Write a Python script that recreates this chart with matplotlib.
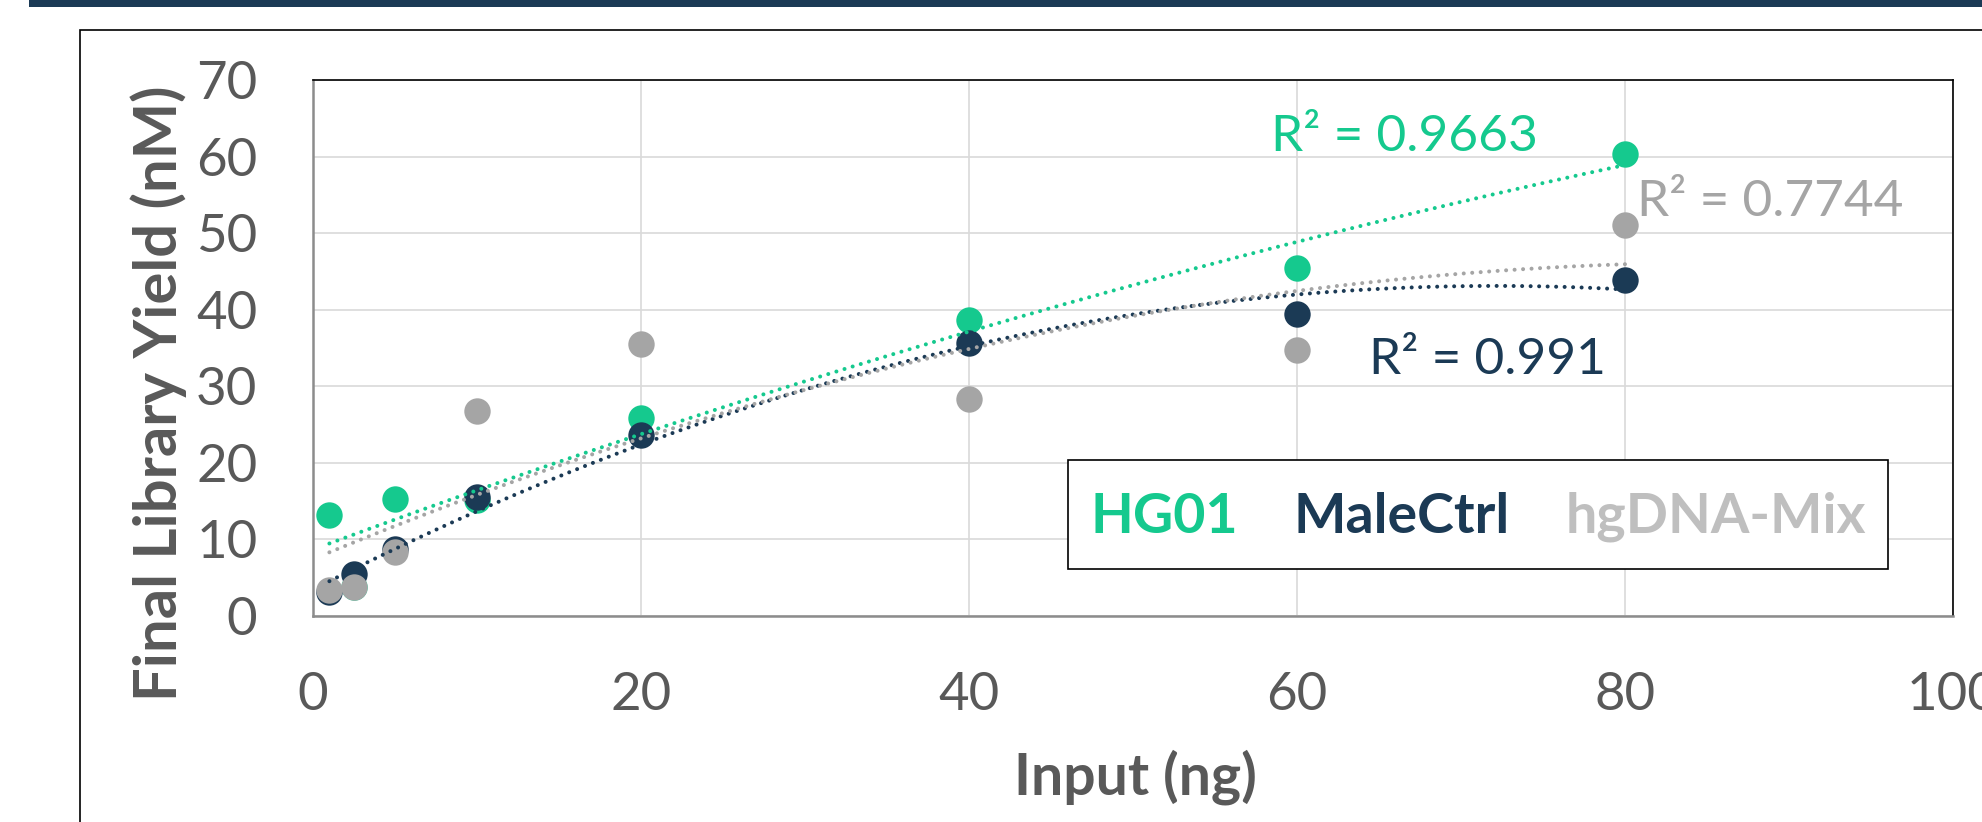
import numpy as np
import matplotlib
matplotlib.use("Agg")
import matplotlib.pyplot as plt
from matplotlib.lines import Line2D
from matplotlib.patches import Rectangle

plt.rcParams['font.family'] = ['Lato', 'DejaVu Sans']

# data (HG01 at 2.5 ng sits under the grey marker)
hg01_x = [1, 2.5, 5, 10, 20, 40, 60, 80]
hg01_y = [13.2, 3.8, 15.3, 15.2, 25.9, 38.6, 45.5, 60.3]

male_x = [1, 2.5, 5, 10, 20, 40, 60, 80]
male_y = [3.1, 5.5, 8.7, 15.6, 23.6, 35.6, 39.4, 43.9]

mix_x = [1, 2.5, 5, 10, 20, 40, 60, 80]
mix_y = [3.4, 3.8, 8.4, 26.8, 35.5, 28.4, 34.7, 51.0]

series_names = ['HG01', 'MaleCtrl', 'hgDNA-Mix']
r2_labels = ['R² = 0.9663', 'R² = 0.991', 'R² = 0.7744']

green = '#15C98E'
navy = '#1B3A55'
grey = '#A5A5A5'
grey_light = '#BFBFBF'
txt = '#595959'

W, H = 1982, 822
fig = plt.figure(figsize=(W / 100, H / 100), dpi=100)

# dark bar on top and the outer chart frame
fig.patches.append(Rectangle((29 / W, 1 - 7 / H), 1, 0.1, transform=fig.transFigure,
                             facecolor=navy, edgecolor='none'))
fig.patches.append(Rectangle((80 / W, -0.2), 1, 1.2 - 30 / H, transform=fig.transFigure,
                             facecolor='none', edgecolor='black', linewidth=1.2))

ax = fig.add_axes([313 / W, 1 - 616 / H, 1640 / W, 536 / H])
ax.set_xlim(0, 100)
ax.set_ylim(0, 70)
ax.set_xticks(np.arange(0, 101, 20))
ax.set_yticks(np.arange(0, 71, 10))
ax.grid(True, color='#D9D9D9', linewidth=1.2, zorder=0)
ax.set_axisbelow(True)
ax.tick_params(length=0, pad=40, labelsize=38, colors=txt)

for s in ['top', 'right']:
    ax.spines[s].set_color('black')
    ax.spines[s].set_linewidth(1.2)
for s in ['left', 'bottom']:
    ax.spines[s].set_color('#8C8C8C')
    ax.spines[s].set_linewidth(1.8)

groups = [(hg01_x, hg01_y, green), (male_x, male_y, navy), (mix_x, mix_y, grey)]
for i, (x, y, c) in enumerate(groups):
    ax.plot(x, y, 'o', ms=19, mew=0, color=c, zorder=3 + i)

# 2nd order polynomial trendlines
for x, y, c in groups:
    coef = np.polyfit(x, y, 2)
    xs = np.linspace(min(x), max(x), 300)
    ax.plot(xs, np.polyval(coef, xs), color=c, lw=2.9, linestyle=(0, (0.01, 2.1)),
            dash_capstyle='round', zorder=10)

ax.text(58.4, 60.7, r2_labels[0], color=green, fontsize=37, va='baseline', zorder=12)
ax.text(64.4, 31.6, r2_labels[1], color=navy, fontsize=37, va='baseline', zorder=12)
ax.text(80.75, 52.3, r2_labels[2], color=grey, fontsize=37, va='baseline', zorder=12)

ax.set_ylabel('Final Library Yield (nM)', fontsize=43, fontweight='bold', color=txt,
              ha='center', va='center')
ax.yaxis.set_label_coords(-(313 - 159) / 1640, (616 - 393) / 536)
ax.set_xlabel('Input (ng)', fontsize=41, fontweight='bold', color=txt, va='center')
ax.xaxis.set_label_coords((1135 - 313) / 1640, -(777 - 616) / 536)

handles = [Line2D([], [], linestyle='none') for _ in series_names]
leg = ax.legend(handles, series_names, loc='upper left',
                bbox_to_anchor=((1068 - 313) / 1640, (616 - 460) / 536),
                ncol=3, handlelength=0, handletextpad=0, handleheight=1.4,
                columnspacing=1.0, borderpad=0.4, borderaxespad=0,
                fancybox=False, framealpha=1, edgecolor='black',
                prop={'weight': 'bold', 'size': 40},
                labelcolor=[green, navy, grey_light])
leg.get_frame().set_linewidth(1.2)
leg.set_zorder(20)

fig.savefig('out.png', dpi=100)
